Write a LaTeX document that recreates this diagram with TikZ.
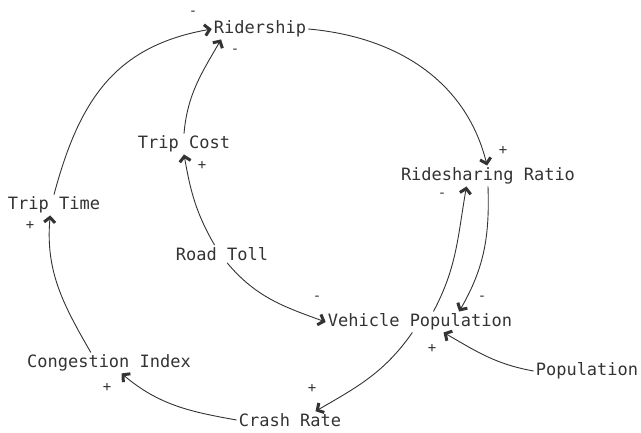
\documentclass[tikz,border=0pt]{standalone}
\usepackage{fontspec}
\setmonofont{DejaVu Sans Mono}
\usetikzlibrary{arrows.meta}
\definecolor{ink}{HTML}{333333}
\begin{document}
\begin{tikzpicture}[x=1pt,y=1pt,
  var/.style={font=\ttfamily\fontsize{17}{20}\selectfont, text=ink, inner sep=2pt},
  sgn/.style={font=\ttfamily\fontsize{14}{16}\selectfont, text=ink, inner sep=0pt},
  link/.style={draw=ink, line width=0.9pt, -{Straight Barb[length=5pt,width=11pt,line width=3pt]}}]
\useasboundingbox (0,0) rectangle (641,432);
\node[var] (rid) at (260,403) {Ridership};
\node[var] (tc)  at (184,288) {Trip Cost};
\node[var] (rsr) at (488,256) {Ridesharing Ratio};
\node[var] (tt)  at (54,227)  {Trip Time};
\node[var] (rt)  at (222,178) {Road Toll};
\node[var] (vp)  at (420,110) {Vehicle Population};
\node[var] (pop) at (587,61)  {Population};
\node[var] (ci)  at (109,69)  {Congestion Index};
\node[var] (cr)  at (290,12)  {Crash Rate};

\draw[link] (rid.east) to[out=-5,in=104] (rsr.95);
\draw[link] (rsr.south) to[out=-88,in=60] (vp.15);
\draw[link] (vp.38) to[out=62,in=-100] (rsr.206);
\draw[link] (pop.west) to[out=170,in=-30] (vp.-24);
\draw[link] (vp.-126) to[out=235,in=30] (cr.19);
\draw[link] (cr.west) to[out=170,in=-40] (ci.-40);
\draw[link] (ci.150) to[out=120,in=-95] (tt.-110);
\draw[link] (tt.north) to[out=75,in=190,looseness=1.1] (rid.west);
\draw[link] (rt.130) to[out=120,in=-80] (tc.south);
\draw[link] (rt.-60) to[out=-50,in=160] (vp.west);
\draw[link] (tc.north) to[out=85,in=240] (rid.195);

\node[sgn] (sA) at (503,282) {+};
\node[sgn] (sB) at (482,134) {-};
\node[sgn] (sC) at (442,237) {-};
\node[sgn] (sD) at (432,84)  {+};
\node[sgn] (sE) at (312,44)  {+};
\node[sgn] (sF) at (107,45)  {+};
\node[sgn] (sG) at (30,207)  {+};
\node[sgn] (sH) at (193,419) {-};
\node[sgn] (sI) at (202,267) {+};
\node[sgn] (sJ) at (317,134) {-};
\node[sgn] (sK) at (235,381) {-};
\end{tikzpicture}
\end{document}
